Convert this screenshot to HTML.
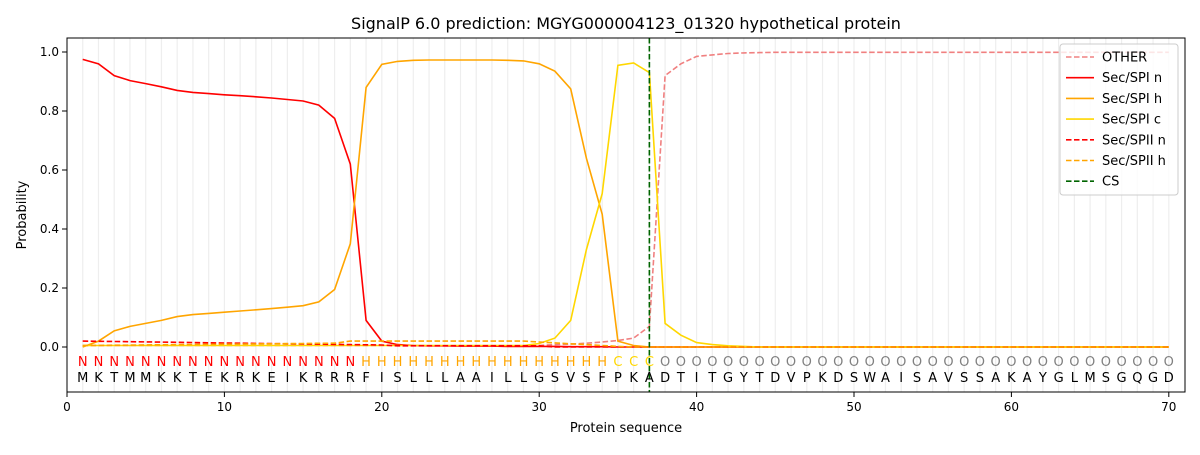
<!DOCTYPE html><html><head><style>body{margin:0;background:#fff}svg text{font-family:"DejaVu Sans","Liberation Sans",sans-serif}</style></head><body>
<svg id="s" width="1200" height="450" xmlns="http://www.w3.org/2000/svg"></svg>
<script>
const S=document.getElementById('s');let h='';
const X=i=>67+i*15.74, Y=v=>347-v*295;
h+=`<text x="626" y="29" font-size="16" text-anchor="middle">SignalP 6.0 prediction: MGYG000004123_01320 hypothetical protein</text>`;
for(let i=1;i<=70;i++)h+=`<line x1="${X(i)}" x2="${X(i)}" y1="38" y2="392" stroke="#eeeeee" stroke-width="1.2"/>`;
function P(a,c,d){let p=a.map((v,k)=>X(k+1).toFixed(1)+','+Y(v).toFixed(1)).join(' ');h+=`<polyline points="${p}" fill="none" stroke="${c}" stroke-width="1.6" ${d?'stroke-dasharray="5.5,2.5"':''}/>`;}
function fill(a,n,v){while(a.length<n)a.push(v);return a;}
let sn=fill([.975,.96,.92,.903,.893,.882,.87,.863,.859,.855,.852,.848,.844,.839,.834,.82,.775,.62,.09,.02,.008,.005,.004,.004,.003,.003,.003,.002,.002,.002,.002,.001,.001,.001],70,0);
let sh=fill([0,.02,.055,.07,.08,.09,.103,.11,.114,.118,.122,.126,.13,.135,.14,.153,.195,.35,.88,.958,.968,.972,.973,.973,.973,.973,.973,.972,.97,.96,.935,.875,.64,.45,.02,.005],70,0);
let sc=[];for(let i=0;i<29;i++)sc.push(.005);sc=fill(sc.concat([.012,.03,.09,.33,.52,.955,.963,.93,.08,.04,.015,.008,.004,.002]),70,0);
let ot=[];for(let i=0;i<30;i++)ot.push(.005);ot=fill(ot.concat([.008,.01,.013,.017,.022,.03,.07,.92,.96,.985,.99,.995,.997,.998]),70,.999);
let n2=[];for(let i=0;i<70;i++)n2.push(i<20?.02-i*.0007:(i<30?.004:0));
let h2=[];for(let i=0;i<70;i++)h2.push(i<17?.005+i*.0005:(i<29?.02:(i<35?.02-(i-28)*.003:0)));
P(ot,'#f08080',1);P(sn,'#ff0000');P(sh,'#ffa500');P(sc,'#ffd700');P(n2,'#ff0000',1);P(h2,'#ffa500',1);
h+=`<line x1="${X(37)}" x2="${X(37)}" y1="38" y2="392" stroke="#006400" stroke-width="1.6" stroke-dasharray="5.5,2.5"/>`;
const seq="MKTMMKKTEKRKEIKRRRFISLLLAAILLGSVSFPKADTITGYTDVPKDSWAISAVSSAKAYGLMSGQGD";
for(let i=1;i<=70;i++){let l,c;if(i<=18){l='N';c='#ff0000'}else if(i<=34){l='H';c='#ffa500'}else if(i<=37){l='C';c='#ffd700'}else{l='O';c='#808080'}
h+=`<text x="${X(i)}" y="366" font-size="13" fill="${c}" text-anchor="middle">${l}</text><text x="${X(i)}" y="382" font-size="13" text-anchor="middle">${seq[i-1]}</text>`;}
h+=`<rect x="67" y="38" width="1118" height="354" fill="none" stroke="#000" stroke-width="1"/>`;
for(let t=0;t<=70;t+=10)h+=`<line x1="${X(t)}" x2="${X(t)}" y1="392" y2="397" stroke="#000"/><text x="${X(t)}" y="411" font-size="12" text-anchor="middle">${t}</text>`;
for(let t=0;t<=5;t++){let v=t*.2;h+=`<line x1="62" x2="67" y1="${Y(v)}" y2="${Y(v)}" stroke="#000"/><text x="59" y="${Y(v)+4}" font-size="12" text-anchor="end">${v.toFixed(1)}</text>`;}
h+=`<text x="626" y="432" font-size="13" text-anchor="middle">Protein sequence</text><text transform="translate(26,215) rotate(-90)" font-size="13" text-anchor="middle">Probability</text>`;
h+=`<rect x="1060" y="44" width="118" height="151" rx="3" fill="#fff" fill-opacity=".8" stroke="#ccc"/>`;
const L=[['OTHER','#f08080',1],['Sec/SPI n','#ff0000'],['Sec/SPI h','#ffa500'],['Sec/SPI c','#ffd700'],['Sec/SPII n','#ff0000',1],['Sec/SPII h','#ffa500',1],['CS','#006400',1]];
L.forEach((e,k)=>{let y=57+k*20.7;h+=`<line x1="1066" x2="1094" y1="${y}" y2="${y}" stroke="${e[1]}" stroke-width="1.6" ${e[2]?'stroke-dasharray="5.5,2.5"':''}/><text x="1102" y="${y+4.5}" font-size="13">${e[0]}</text>`;});
S.innerHTML=h;
</script></body></html>
